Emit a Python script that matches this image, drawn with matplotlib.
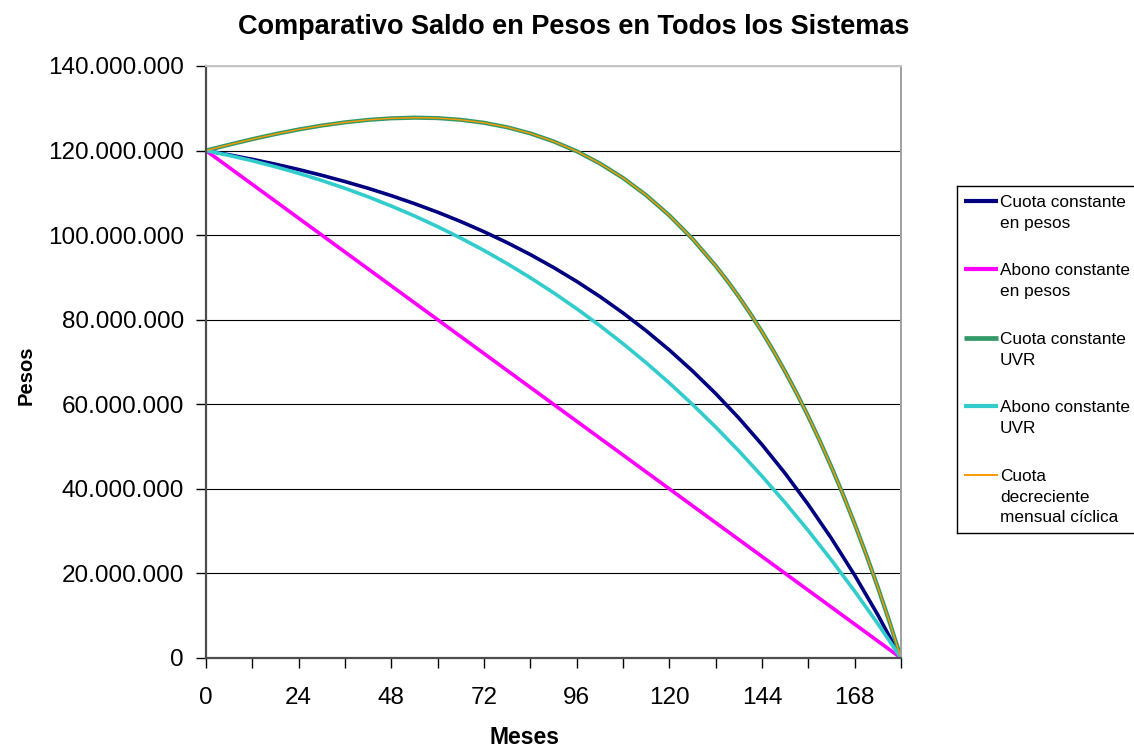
import matplotlib.pyplot as plt
from matplotlib.ticker import FuncFormatter, FixedLocator

plt.rcParams['font.family'] = ['Liberation Sans', 'DejaVu Sans']

#----Data (saldo en millones de pesos)

# cada 6 meses
meses = [0, 6, 12, 18, 24, 30, 36, 42, 48, 54, 60, 66, 72, 78, 84, 90,
         96, 102, 108, 114, 120, 126, 132, 138, 144, 150, 156, 162, 168, 174, 180]

# cada 6 meses y cada 3 en el tramo final
mesesFino = [0, 6, 12, 18, 24, 30, 36, 42, 48, 54, 60, 66, 72, 78, 84, 90,
             96, 102, 108, 114, 120, 126, 132, 135, 138, 141, 144, 147, 150,
             153, 156, 159, 162, 165, 168, 171, 174, 177, 180]

cuotaConstantePesos = [120.00, 119.00, 117.93, 116.77, 115.52, 114.15, 112.67, 111.08,
                       109.34, 107.45, 105.42, 103.21, 100.81, 98.22, 95.41, 92.36,
                       89.06, 85.49, 81.60, 77.39, 72.83, 67.89, 62.54, 56.74,
                       50.46, 43.65, 36.25, 28.25, 19.58, 10.19, 0.00]

abonoConstantePesos = [120, 116, 112, 108, 104, 100, 96, 92, 88, 84, 80, 76, 72, 68, 64, 60,
                       56, 52, 48, 44, 40, 36, 32, 28, 24, 20, 16, 12, 8, 4, 0]

cuotaConstanteUVR = [120.00, 121.39, 122.70, 123.91, 124.99, 125.92, 126.67, 127.26,
                     127.63, 127.78, 127.68, 127.27, 126.57, 125.51, 124.06, 122.17,
                     119.84, 116.96, 113.52, 109.44, 104.66, 99.12, 92.73, 89.21,
                     85.44, 81.41, 77.13, 72.56, 67.71, 62.57, 57.09, 51.28,
                     45.13, 38.62, 31.71, 24.43, 16.73, 8.60, 0.00]

abonoConstanteUVR = [120.00, 118.85, 117.58, 116.16, 114.62, 112.92, 111.07, 109.06,
                     106.88, 104.54, 102.01, 99.29, 96.38, 93.26, 89.93, 86.39,
                     82.61, 78.60, 74.34, 69.82, 65.03, 59.97, 54.62, 48.97,
                     43.00, 36.72, 30.10, 23.13, 15.80, 8.09, 0.00]

cuotaDecrecienteCiclica = [120.00, 121.39, 122.70, 123.91, 124.99, 125.92, 126.67, 127.26,
                           127.63, 127.78, 127.68, 127.27, 126.57, 125.51, 124.06, 122.17,
                           119.84, 116.96, 113.52, 109.44, 104.66, 99.12, 92.73, 89.21,
                           85.44, 81.41, 77.13, 72.56, 67.71, 62.57, 57.09, 51.28,
                           45.13, 38.62, 31.71, 24.43, 16.73, 8.60, 0.00]

nombres = ["Cuota constante\nen pesos",
           "Abono constante\nen pesos",
           "Cuota constante\nUVR",
           "Abono constante\nUVR",
           "Cuota\ndecreciente\nmensual cíclica"]

ejesX = [meses, meses, mesesFino, meses, mesesFino]
series = [cuotaConstantePesos, abonoConstantePesos, cuotaConstanteUVR,
          abonoConstanteUVR, cuotaDecrecienteCiclica]

colores = ['#000080', '#FF00FF', '#339966', '#33CCCC', '#FF9900']
grosores = [2.6, 2.6, 3.0, 2.6, 1.0]

xTicksMayores = [0, 24, 48, 72, 96, 120, 144, 168]
xTicksMenores = [12, 36, 60, 84, 108, 132, 156, 180]
yTicks = [0, 20e6, 40e6, 60e6, 80e6, 100e6, 120e6, 140e6]


def miles(v, pos):
    # separador de miles con punto
    return f"{v:,.0f}".replace(",", ".")


#----Figure

W, H = 1134, 748
fig = plt.figure(figsize=(W / 100, H / 100), dpi=100)
ax = fig.add_axes([206 / W, 1 - 658 / H, (901 - 206) / W, (658 - 66) / H])

for yv in yTicks[1:]:
    ax.axhline(yv, color='#000000', lw=0.8, zorder=1)

for xs, datos, color, lw in zip(ejesX, series, colores, grosores):
    ax.plot(xs, [d * 1e6 for d in datos], color=color, lw=lw,
            solid_joinstyle='round', zorder=3)

ax.set_xlim(0, 180)
ax.set_ylim(0, 140e6)
ax.xaxis.set_major_locator(FixedLocator(xTicksMayores))
ax.xaxis.set_minor_locator(FixedLocator(xTicksMenores))
ax.yaxis.set_major_locator(FixedLocator(yTicks))
ax.yaxis.set_major_formatter(FuncFormatter(miles))

ax.tick_params(axis='both', which='both', direction='out', length=7,
               width=1.0, color='#000000', labelsize=17.5)
ax.tick_params(axis='x', which='major', pad=14)
ax.tick_params(axis='y', which='major', pad=9)

for lado in ['left', 'bottom']:
    ax.spines[lado].set_color('#4d4d4d')
    ax.spines[lado].set_linewidth(1.6)
ax.spines['top'].set_color('#c8c8c8')
ax.spines['right'].set_color('#a0a0a0')
ax.spines['top'].set_linewidth(1.4)
ax.spines['right'].set_linewidth(1.4)
for s in ax.spines.values():
    s.set_zorder(4)

ax.set_xlabel("Meses", fontsize=16.5, fontweight='bold', va='baseline')
ax.xaxis.set_label_coords(0.4576, -0.1445)
ax.set_ylabel("Pesos", fontsize=14.5, fontweight='bold')
ax.yaxis.set_label_coords(-0.245, 0.478)

fig.text(574 / W, 1 - 27 / H, "Comparativo Saldo en Pesos en Todos los Sistemas",
         ha='center', va='center', fontsize=19.5, fontweight='bold')

#----Legend box, drawn in pixel units

lx0, ly0, ly1 = 957, 186, 533
axl = fig.add_axes([lx0 / W, 1 - ly1 / H, (1140 - lx0) / W, (ly1 - ly0) / H])
axl.set_xlim(0, 1140 - lx0)
axl.set_ylim(ly1 - ly0, 0)
axl.set_xticks([])
axl.set_yticks([])
for s in axl.spines.values():
    s.set_color('#000000')
    s.set_linewidth(1.0)

paso = 68.5
for i, (nombre, color, lw) in enumerate(zip(nombres, colores, grosores)):
    yh = 15 + i * paso
    axl.plot([7, 41], [yh, yh], color=color, lw=lw + 0.4, solid_capstyle='butt')
    for j, linea in enumerate(nombre.split("\n")):
        axl.text(43, yh + 6 + j * 20.7, linea, fontsize=12.4,
                 ha='left', va='baseline')

fig.savefig("out.png", dpi=100)
